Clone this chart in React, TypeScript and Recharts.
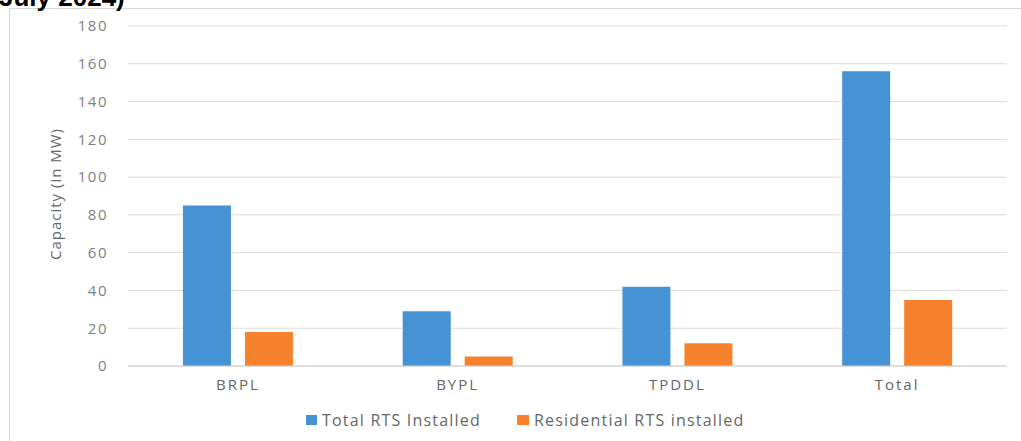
import { BarChart, Bar, XAxis, YAxis, CartesianGrid } from "recharts";

const categories = ["BRPL", "BYPL", "TPDDL", "Total"];
const totalRts = [85, 29, 42, 156];
const residentialRts = [18, 5, 12, 35];
const yTicks = [0, 20, 40, 60, 80, 100, 120, 140, 160, 180];

const BLUE = "#4592d5";
const ORANGE = "#f6822d";

const data = categories.map((name, i) => ({
  name,
  total: totalRts[i],
  residential: residentialRts[i],
}));

export default function App() {
  return (
    <div
      style={{
        position: "fixed", top: 0, left: 0, width: 1021, height: 441,
        overflow: "hidden", background: "#fff", fontFamily: "'Open Sans', sans-serif",
      }}
    >
      {/* chart frame, cut off at right and bottom */}
      <div style={{ position: "absolute", left: 9, top: 8, width: 1100, height: 500, border: "1px solid #d9d9d9" }} />

      {/* clipped heading from the page above */}
      <div
        style={{
          position: "absolute", left: -1, top: -16, fontFamily: "'Liberation Sans', Arial, sans-serif",
          fontWeight: 700, fontSize: 26, lineHeight: 1, color: "#000", whiteSpace: "nowrap",
        }}
      >
        July 2024)
      </div>

      <div style={{ position: "absolute", left: 0, top: 0 }}>
        <BarChart
          width={1021}
          height={441}
          data={data}
          margin={{ top: 26, right: 14, left: 60, bottom: 45 }}
          barCategoryGap="25%"
          barGap={14}
        >
          <CartesianGrid vertical={false} stroke="#dcdcdc" />
          <XAxis
            dataKey="name"
            axisLine={{ stroke: "#d0d0d0" }}
            tickLine={false}
            tickMargin={7}
            height={30}
            tick={{ fontSize: 15, fill: "#666", fontFamily: "'Open Sans', sans-serif", letterSpacing: 2 }}
          />
          <YAxis
            width={68}
            domain={[0, 180]}
            ticks={yTicks}
            axisLine={false}
            tickLine={false}
            tickMargin={14}
            tick={{ fontSize: 15, fill: "#7f7f7f", fontFamily: "'Open Sans', sans-serif", letterSpacing: 1.5 }}
          />
          <Bar dataKey="total" fill={BLUE} isAnimationActive={false} />
          <Bar dataKey="residential" fill={ORANGE} isAnimationActive={false} />
        </BarChart>
      </div>

      {/* y axis title */}
      <div
        style={{
          position: "absolute", left: 55, top: 194, transform: "translate(-50%, -50%) rotate(-90deg)",
          fontSize: 15, color: "#666", whiteSpace: "nowrap", letterSpacing: 1,
        }}
      >
        Capacity (in MW)
      </div>

      {/* legend */}
      <div
        style={{
          position: "absolute", left: 306, top: 409, display: "flex", alignItems: "center",
          fontSize: 16, color: "#666", whiteSpace: "nowrap", letterSpacing: 1.2,
        }}
      >
        <span style={{ width: 11, height: 10, background: BLUE, display: "inline-block", marginRight: 5 }} />
        <span>Total RTS Installed</span>
        <span style={{ width: 12, height: 10, background: ORANGE, display: "inline-block", marginLeft: 36, marginRight: 5 }} />
        <span>Residential RTS installed</span>
      </div>
    </div>
  );
}
